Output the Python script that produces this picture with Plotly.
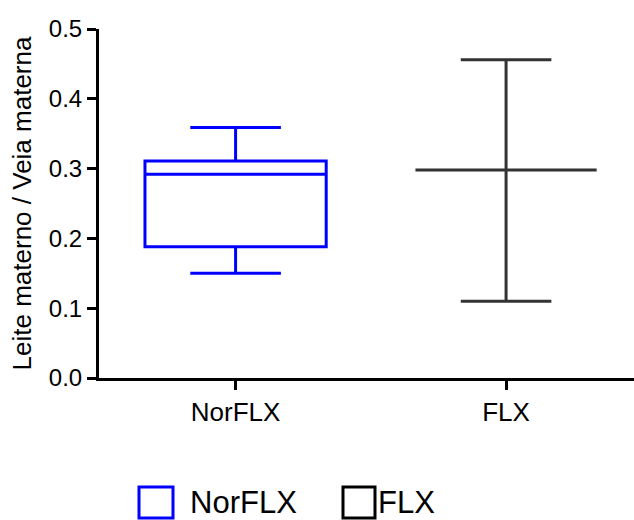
import plotly.graph_objects as go

# Data
groups = ["NorFLX", "FLX"]
lower_whisker = [0.150, 0.110]
q1_vals = [0.188, 0.298]
medians = [0.292, 0.298]
q3_vals = [0.311, 0.298]
upper_whisker = [0.359, 0.456]
colors = ["#0000FF", "#333333"]
y_ticks = [0.0, 0.1, 0.2, 0.3, 0.4, 0.5]

FONT = "Liberation Sans, Arial, Helvetica, sans-serif"

fig = go.Figure()
for i, g in enumerate(groups):
    fig.add_trace(go.Box(
        x=[g], name=g,
        q1=[q1_vals[i]], median=[medians[i]], q3=[q3_vals[i]],
        lowerfence=[lower_whisker[i]], upperfence=[upper_whisker[i]],
        boxpoints=False,
        width=0.67,
        whiskerwidth=0.5,
        line=dict(color=colors[i], width=3),
        fillcolor="rgba(0,0,0,0)",
        showlegend=False,
    ))

W, H = 634, 520
L, R, T, B = 99, 0, 29, 142
pw, ph = W - L - R, H - T - B

def px(xp):
    return (xp - L) / pw

def py(yp):
    return (H - B - yp) / ph

# manual legend (large outlined squares + labels)
shapes = []
annotations = []
legend_items = [(139, 173, 188), (343, 375, 376)]
for (x0, x1, tx), g, c in zip(legend_items, groups, ["#0000FF", "#000000"]):
    shapes.append(dict(type="rect", xref="paper", yref="paper",
                       x0=px(x0), x1=px(x1), y0=py(518), y1=py(487),
                       line=dict(color=c, width=3), fillcolor="rgba(0,0,0,0)"))
    annotations.append(dict(text=g, xref="paper", yref="paper",
                            x=px(tx), y=py(502), xanchor="left", yanchor="middle",
                            showarrow=False, font=dict(family=FONT, size=31, color="#000000")))

fig.update_layout(
    width=W, height=H,
    margin=dict(l=L, r=R, t=T, b=B),
    plot_bgcolor="white", paper_bgcolor="white",
    font=dict(family=FONT, color="#000000"),
    shapes=shapes, annotations=annotations,
    xaxis=dict(
        type="category", categoryorder="array", categoryarray=groups,
        range=[-0.505, 1.473],
        showline=True, linecolor="#000000", linewidth=3,
        ticks="outside", ticklen=9, tickwidth=3, tickcolor="#000000",
        tickfont=dict(family=FONT, size=26, color="#000000"),
        showgrid=False, zeroline=False,
    ),
    yaxis=dict(
        range=[0, 0.5],
        tickvals=y_ticks, tickformat=".1f",
        showline=True, linecolor="#000000", linewidth=3,
        ticks="outside", ticklen=9, tickwidth=3, tickcolor="#000000",
        tickfont=dict(family=FONT, size=24, color="#000000"),
        showgrid=False, zeroline=False,
        title=dict(text="Leite materno / Veia materna",
                   font=dict(family=FONT, size=26, color="#000000"), standoff=10),
    ),
)

fig.write_html("out.html")
